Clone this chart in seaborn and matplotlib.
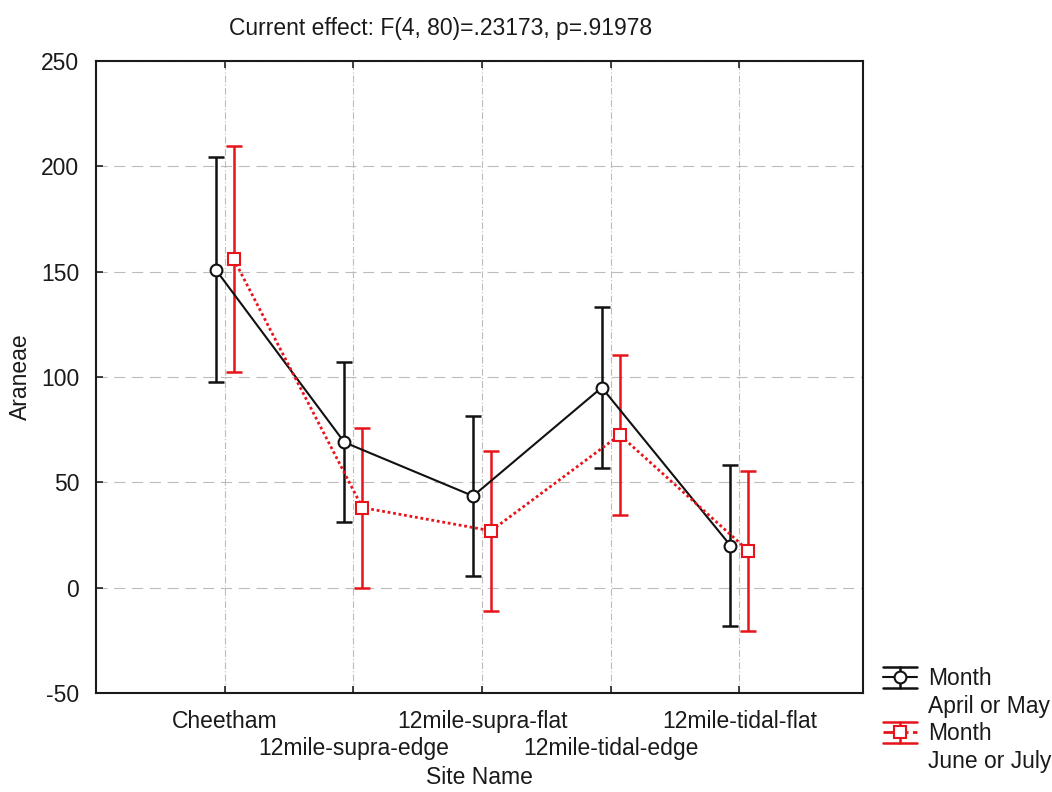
import numpy as np
import pandas as pd
import matplotlib
matplotlib.use("Agg")
import matplotlib.pyplot as plt
from matplotlib.lines import Line2D
from matplotlib.legend_handler import HandlerBase
from matplotlib.transforms import ScaledTranslation
import seaborn as sns

# Site means and 95% confidence half-widths for each sampling month
sites = ["Cheetham", "12mile-supra-edge", "12mile-supra-flat",
         "12mile-tidal-edge", "12mile-tidal-flat"]
months = ["April or May", "June or July"]
mean_apr_may = [151.0, 69.0, 43.5, 95.0, 20.0]
ci_apr_may = [53.5, 38.0, 38.0, 38.0, 38.0]
mean_jun_jul = [156.0, 38.0, 27.0, 72.5, 17.5]
ci_jun_jul = [53.5, 38.0, 38.0, 38.0, 38.0]
yticks = [-50, 0, 50, 100, 150, 200, 250]

title_text = "Current effect: F(4, 80)=.23173, p=.91978"

sns.set_theme(style="white")
plt.rcParams["font.family"] = ["Liberation Sans", "DejaVu Sans"]
plt.rcParams["axes.unicode_minus"] = False
FS = 16.5

df = pd.DataFrame({
    "Site Name": sites * 2,
    "Month": [months[0]] * len(sites) + [months[1]] * len(sites),
    "Araneae": mean_apr_may + mean_jun_jul,
})

colors = ["#111111", "#e8141b"]
dodge = 0.14

fig = plt.figure(figsize=(10.52, 7.92), dpi=100)
ax = fig.add_axes([96 / 1052, 1 - 693 / 792, (863 - 96) / 1052, (693 - 61) / 792])

sns.pointplot(data=df, x="Site Name", y="Araneae", hue="Month",
              order=sites, hue_order=months, palette=colors,
              markers=["o", "s"], linestyles=["-", (0, (1, 1))],
              dodge=dodge, errorbar=None, legend=False, ax=ax,
              linewidth=1.5, markersize=8.5, markeredgewidth=1.5,
              markerfacecolor="white")

# thicker dotted line for the second month
for ln in ax.lines:
    if matplotlib.colors.to_hex(ln.get_color()) == colors[1]:
        ln.set_linewidth(2.0)

# confidence intervals drawn beneath the markers
xpos = np.arange(len(sites))
for i, (m, ci, c) in enumerate([(mean_apr_may, ci_apr_may, colors[0]),
                                 (mean_jun_jul, ci_jun_jul, colors[1])]):
    off = -dodge / 2 + dodge * i
    ax.errorbar(xpos + off, m, yerr=ci, fmt="none", ecolor=c,
                elinewidth=1.8, capsize=5.5, capthick=1.8, zorder=1.8)

ax.set_xlim(-1.0, 4.96)
ax.set_ylim(-50, 250)
ax.set_yticks(yticks)
ax.set_xticks(xpos)
ax.set_xticklabels(sites)

ax.xaxis.grid(True, linestyle=(0, (6, 2, 1, 2)), color="#bcbcbc", linewidth=0.8)
ax.yaxis.grid(True, linestyle=(0, (10, 6)), color="#bcbcbc", linewidth=0.8)
ax.set_axisbelow(True)

ax.tick_params(axis="both", direction="in", length=5, width=1.2, color="#222222",
               labelsize=FS, labelcolor="#1a1a1a")
ax.tick_params(axis="x", top=True, bottom=True, pad=12)
ax.tick_params(axis="y", left=True, right=False, pad=12)
for sp in ax.spines.values():
    sp.set_visible(True)
    sp.set_linewidth(1.5)
    sp.set_color("#1a1a1a")

# staggered site names: every second one sits on a lower row
for lab in ax.get_xticklabels()[1::2]:
    lab.set_transform(lab.get_transform() + ScaledTranslation(0, -0.27, fig.dpi_scale_trans))

ax.set_xlabel("Site Name", fontsize=FS, color="#1a1a1a", labelpad=2)
ax.xaxis.set_label_coords(0.5, -(778 - 693) / (693 - 61))
ax.xaxis.label.set_va("center")
ax.set_ylabel("Araneae", fontsize=FS, color="#1a1a1a")
ax.yaxis.set_label_coords(-(96 - 20) / (863 - 96), 0.5)
ax.yaxis.label.set_va("center")
fig.text(441 / 1052, 1 - 28 / 792, title_text, fontsize=FS, color="#1a1a1a",
         ha="center", va="center")


class ErrorbarKeyHandler(HandlerBase):
    """Legend key: caps, whisker, series line and marker."""

    def create_artists(self, legend, orig_handle, xdescent, ydescent,
                       width, height, fontsize, trans):
        c = orig_handle.get_color()
        x0, x1 = -xdescent, -xdescent + width
        y0, y1 = -ydescent - 0.1 * height, -ydescent + 1.1 * height
        xm, ym = (x0 + x1) / 2, (y0 + y1) / 2
        arts = [
            Line2D([x0, x1], [y1, y1], color=c, lw=1.8),
            Line2D([x0, x1], [y0, y0], color=c, lw=1.8),
            Line2D([xm, xm], [y0, y1], color=c, lw=1.8),
            Line2D([x0, x1], [ym, ym], color=c, lw=orig_handle.get_linewidth(),
                   linestyle=orig_handle.get_linestyle()),
            Line2D([xm], [ym], color=c, marker=orig_handle.get_marker(),
                   markersize=8.5, markeredgewidth=1.5, markerfacecolor="white",
                   linestyle="none"),
        ]
        for a in arts:
            a.set_transform(trans)
        return arts


h1 = Line2D([], [], color=colors[0], marker="o", linestyle="-", linewidth=1.5)
h2 = Line2D([], [], color=colors[1], marker="s", linestyle=(0, (1, 1)), linewidth=2.0)
blank1 = Line2D([], [], linestyle="none")
blank2 = Line2D([], [], linestyle="none")
ax.legend([h1, blank1, h2, blank2],
          ["Month", months[0], "Month", months[1]],
          handler_map={h1: ErrorbarKeyHandler(), h2: ErrorbarKeyHandler()},
          loc="upper left", bbox_to_anchor=(883 / 1052, 1 - 667 / 792),
          bbox_transform=fig.transFigure, frameon=False, fontsize=FS,
          handlelength=1.5, handleheight=0.8, handletextpad=0.45,
          labelspacing=0.2, borderpad=0, borderaxespad=0,
          labelcolor="#1a1a1a")

fig.savefig("out.png", dpi=100, facecolor="white")
